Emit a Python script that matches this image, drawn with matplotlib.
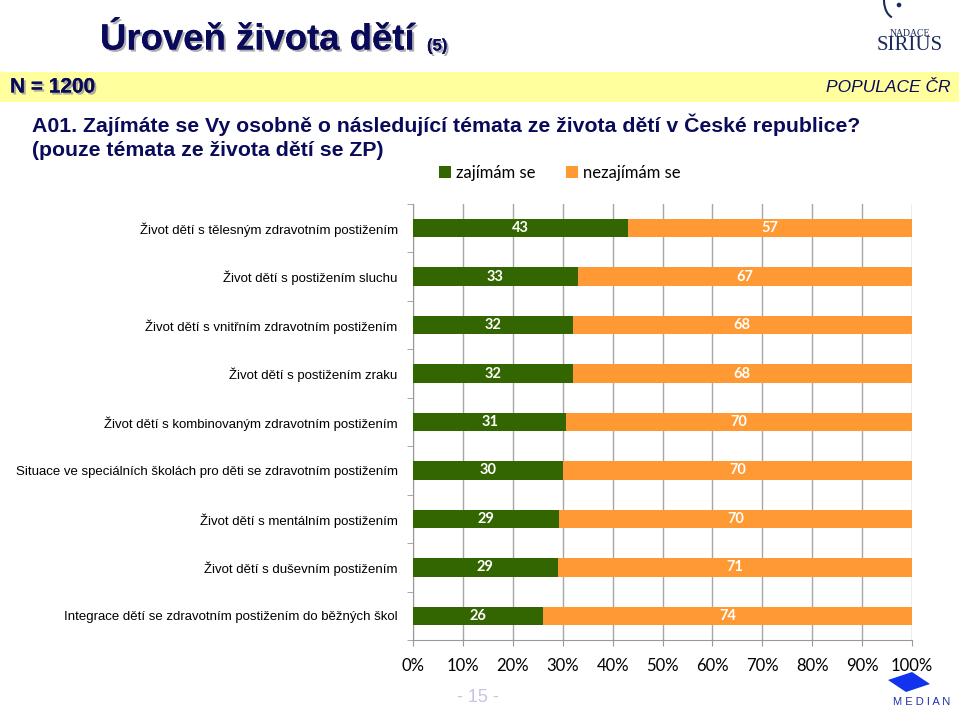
import matplotlib
matplotlib.use('Agg')
import matplotlib.pyplot as plt
import matplotlib.patheffects as pe
from matplotlib.patches import Rectangle, Arc, Circle, Polygon
import numpy as np

# data
categories = [
    'Život dětí s tělesným zdravotním postižením',
    'Život dětí s postižením sluchu',
    'Život dětí s vnitřním zdravotním postižením',
    'Život dětí s postižením zraku',
    'Život dětí s kombinovaným zdravotním postižením',
    'Situace ve speciálních školách pro děti se zdravotním postižením',
    'Život dětí s mentálním postižením',
    'Život dětí s duševním postižením',
    'Integrace dětí se zdravotním postižením do běžných škol',
]
zajimam = [43, 33, 32, 32, 31, 30, 29, 29, 26]
nezajimam = [57, 67, 68, 68, 70, 70, 70, 71, 74]
x_ticks = [0, 10, 20, 30, 40, 50, 60, 70, 80, 90, 100]

green = '#336600'
orange = '#FF9933'
navy = '#0A0A5A'

fig = plt.figure(figsize=(9.59, 7.09), dpi=100)

# header band and texts
fig.patches.append(Rectangle((0, 1 - 102/709), 1, 30/709, transform=fig.transFigure,
                             facecolor='#FFFF9E', edgecolor='none', zorder=0))
shadow = [pe.withSimplePatchShadow(offset=(1.5, -1.5), shadow_rgbFace='#999999', alpha=0.8), pe.Normal()]
fig.text(100/959, 1 - 40/709, 'Úroveň života dětí', fontsize=26.3, fontweight='bold',
         family='Liberation Sans', color=navy, va='center', ha='left', path_effects=shadow)
fig.text(427/959, 1 - 46/709, '(5)', fontsize=12, fontweight='bold',
         family='Liberation Sans', color=navy, va='center', ha='left', path_effects=shadow)
fig.text(10/959, 1 - 87/709, 'N = 1200', fontsize=15, fontweight='bold',
         family='Liberation Sans', color=navy, va='center', ha='left', path_effects=shadow)
fig.text(950/959, 1 - 88/709, 'POPULACE ČR', fontsize=12.5, fontstyle='italic',
         family='Liberation Sans', color=navy, va='center', ha='right')
fig.text(32/959, 1 - 125/709, 'A01. Zajímáte se Vy osobně o následující témata ze života dětí v České republice?',
         fontsize=15.3, fontweight='bold', family='Liberation Sans', color=navy, va='center', ha='left')
fig.text(32/959, 1 - 151/709, '(pouze témata ze života dětí se ZP)',
         fontsize=15.3, fontweight='bold', family='Liberation Sans', color=navy, va='center', ha='left')

# logos (rough versions)
fig.text(910/959, 1 - 33/709, 'NADACE', fontsize=7, family='Liberation Serif', color='#1A2A5A',
         ha='center', va='center')
fig.text(910/959, 1 - 46/709, 'SIRIUS', fontsize=15, family='Liberation Serif', color='#1A2A5A',
         ha='center', va='center')
logo_ax = fig.add_axes([880/959, 1 - 24/709, 30/959, 24/709])
logo_ax.set_xlim(0, 30)
logo_ax.set_ylim(24, 0)
logo_ax.axis('off')
logo_ax.add_patch(Arc((15, 0), 22, 36, theta1=100, theta2=250, color='#1A2A5A', linewidth=1.5))
logo_ax.add_patch(Circle((19, 5), 1.6, color='#1A2A5A'))
fig.patches.append(Polygon([(888/959, 1 - 680/709), (912/959, 1 - 672/709), (930/959, 1 - 684/709),
                            (906/959, 1 - 692/709)], closed=True, transform=fig.transFigure,
                           facecolor='#1133EE', edgecolor='none', zorder=5))
fig.text(922/959, 1 - 702/709, 'M E D I A N', fontsize=8, family='Liberation Sans', color='#2233AA',
         ha='center', va='center')
fig.text(478/959, 1 - 697/709, '- 15 -', fontsize=13, family='Liberation Sans', color='#C4C4E4',
         ha='center', va='center')

# chart
ax = fig.add_axes([413/959, 1 - 640/709, 499/959, 436/709])
y = np.arange(len(categories))
tot = np.array(zajimam) + np.array(nezajimam)
g = np.array(zajimam) / tot * 100
o = np.array(nezajimam) / tot * 100
h = 0.38
ax.barh(y, g, height=h, color=green, zorder=3, label='zajímám se')
ax.barh(y, o, left=g, height=h, color=orange, zorder=3, label='nezajímám se')
for i in range(len(categories)):
    ax.text(g[i] / 2, y[i], str(zajimam[i]), ha='center', va='center', color='white',
            fontsize=10.5, fontweight='bold', family='Lato', zorder=4,
            bbox=dict(boxstyle='round,pad=0.12', facecolor=green, edgecolor='none'))
    ax.text(g[i] + o[i] / 2, y[i], str(nezajimam[i]), ha='center', va='center', color='white',
            fontsize=10.5, fontweight='bold', family='Lato', zorder=4)

ax.set_xlim(0, 100)
ax.set_ylim(len(categories) - 0.5, -0.5)
ax.set_xticks(x_ticks)
ax.set_xticklabels([f'{t}%' for t in x_ticks], family='Lato', fontsize=12)
ax.set_yticks(y)
ax.set_yticklabels(categories, family='Liberation Sans', fontsize=9.5)
ax.set_yticks(np.arange(len(categories) + 1) - 0.5, minor=True)
ax.tick_params(axis='y', which='major', length=0, pad=11)
ax.tick_params(axis='y', which='minor', length=4, color='#999999')
ax.tick_params(axis='x', length=4, color='#999999', pad=9, direction='out')
ax.grid(axis='x', color='#A6A6A6', linewidth=1, zorder=0)
for s in ['top', 'right']:
    ax.spines[s].set_visible(False)
ax.spines['left'].set_color('#999999')
ax.spines['bottom'].set_color('#999999')

fig.legend(loc='center', bbox_to_anchor=(560/959, 1 - 173/709), ncol=2, frameon=False,
           prop={'family': 'Lato', 'size': 12}, handlelength=0.7, handleheight=0.7,
           handletextpad=0.35, columnspacing=1.8)

plt.savefig('out.png', dpi=100)
